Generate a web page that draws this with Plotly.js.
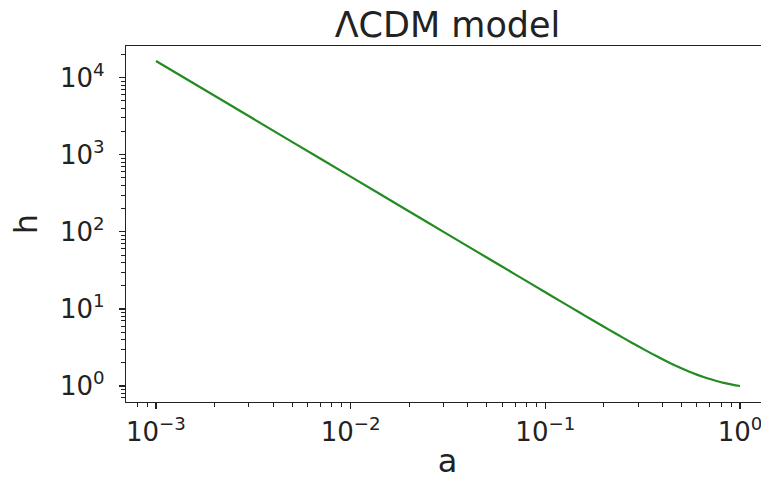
<!DOCTYPE html>
<html>
<head>
<meta charset="utf-8">
<script src="https://cdn.plot.ly/plotly-3.0.1.min.js"></script>
<style>
html, body { margin: 0; padding: 0; overflow: hidden; background: #fff; }
#chart { width: 775px; height: 480px; }
</style>
</head>
<body>
<div id="chart"></div>
<script>
// scale factor a and Hubble rate h
const scaleFactor = [0.001, 0.002, 0.005, 0.01, 0.02, 0.03, 0.05, 0.07, 0.1, 0.12, 0.15, 0.17, 0.2, 0.225, 0.25, 0.275, 0.3, 0.35, 0.4, 0.45, 0.5, 0.55, 0.6, 0.65, 0.7, 0.75, 0.8, 0.85, 0.9, 0.95, 1.0];
const hubbleRate  = [16432, 5809.5, 1469.7, 519.6, 183.71, 100.0, 46.48, 28.07, 16.454, 12.529, 8.985, 7.4623, 5.872, 4.943, 4.244, 3.703, 3.276, 2.651, 2.2246, 1.9217, 1.70, 1.5339, 1.4071, 1.3089, 1.2317, 1.1705, 1.1213, 1.0815, 1.0490, 1.0222, 1.0];

const xTickVals = [0.001, 0.01, 0.1, 1];
const xTickText = ['10<sup>−3</sup>', '10<sup>−2</sup>', '10<sup>−1</sup>', '10<sup>0</sup>'];
const yTickVals = [1, 10, 100, 1000, 10000];
const yTickText = ['10<sup>0</sup>', '10<sup>1</sup>', '10<sup>2</sup>', '10<sup>3</sup>', '10<sup>4</sup>'];

const titleText = 'ΛCDM model';
const xLabel = 'a';
const yLabel = 'h';

function minorVals(lo, hi) {
  const v = [];
  for (let e = lo; e <= hi; e++) for (let m = 2; m <= 9; m++) v.push(m * Math.pow(10, e));
  return v;
}

const font = 'DejaVu Sans, sans-serif';
const axisCommon = {
  type: 'log',
  showline: true,
  linecolor: '#222',
  linewidth: 1.2,
  mirror: true,
  showgrid: false,
  zeroline: false,
  ticks: 'outside',
  ticklen: 6,
  tickwidth: 1.2,
  tickcolor: '#222',
  tickmode: 'array',
  tickfont: { family: font, size: 26, color: '#222' }
};

const trace = {
  x: scaleFactor,
  y: hubbleRate,
  type: 'scatter',
  mode: 'lines',
  line: { color: '#228B22', width: 2.2, shape: 'spline', smoothing: 0.6 },
  hoverinfo: 'skip'
};

const layout = {
  width: 775,
  height: 480,
  paper_bgcolor: '#fff',
  plot_bgcolor: '#fff',
  showlegend: false,
  margin: { l: 126, r: 6, t: 46, b: 78 },
  title: {
    text: titleText,
    font: { family: font, size: 35, color: '#222' },
    x: 0.5, xref: 'paper', xanchor: 'center',
    y: 1 - 25 / 480, yref: 'container', yanchor: 'middle'
  },
  xaxis: Object.assign({}, axisCommon, {
    range: [-3.154, 0.149],
    tickvals: xTickVals,
    ticktext: xTickText,
    ticklabelstandoff: 1,
    minor: { ticks: 'outside', ticklen: 3.5, tickwidth: 1, tickcolor: '#222', tickvals: minorVals(-4, 0), showgrid: false },
    title: { text: xLabel, font: { family: font, size: 32, color: '#222' }, standoff: 10 }
  }),
  yaxis: Object.assign({}, axisCommon, {
    range: [-0.207, 4.41],
    tickvals: yTickVals,
    ticktext: yTickText,
    ticklabelstandoff: 9,
    minor: { ticks: 'outside', ticklen: 3.5, tickwidth: 1, tickcolor: '#222', tickvals: minorVals(-1, 4), showgrid: false },
    title: { text: yLabel, font: { family: font, size: 32, color: '#222' }, standoff: 12 }
  })
};

Plotly.newPlot('chart', [trace], layout, { staticPlot: true, displayModeBar: false });
</script>
</body>
</html>
